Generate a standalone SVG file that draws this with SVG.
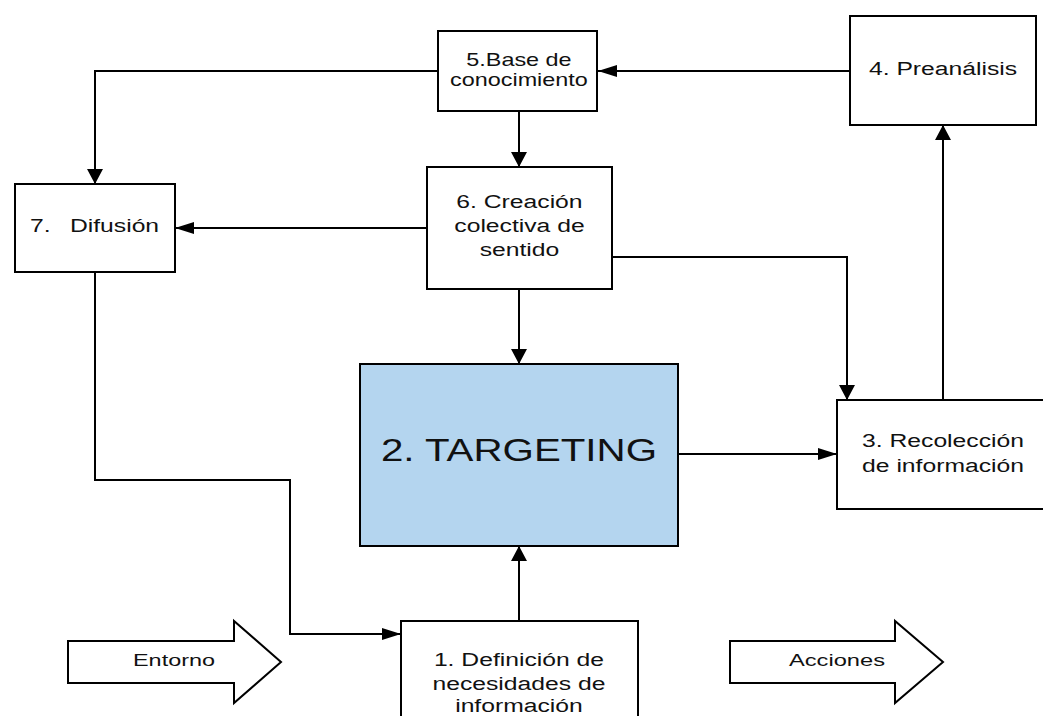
<svg xmlns="http://www.w3.org/2000/svg" width="1043" height="716" viewBox="0 0 1043 716">
<style>
.box{fill:#ffffff;stroke:#000;stroke-width:2}
.blue{fill:#b4d5ef;stroke:#000;stroke-width:2}
.conn{fill:none;stroke:#000;stroke-width:2}
.big{fill:#fff;stroke:#000;stroke-width:2;stroke-linejoin:miter}
text{font-family:"Liberation Sans",Arial,sans-serif;fill:#111;text-anchor:middle}
.t19{font-size:19px}
.t18{font-size:18px}
.t16{font-size:16px}
.t31{font-size:31px}
</style>
<defs>
<marker id="ah" markerUnits="userSpaceOnUse" markerWidth="20" markerHeight="12" refX="19" refY="6" orient="auto">
<path d="M0,0 L19,6 L0,12 z" fill="#000"/>
</marker>
<marker id="av" markerUnits="userSpaceOnUse" markerWidth="16" markerHeight="16" refX="15" refY="8" orient="auto">
<path d="M0,0 L15,8 L0,16 z" fill="#000"/>
</marker>
</defs>
<rect width="1043" height="716" fill="#fff"/>
<g id="connectors">
<line class="conn" x1="850" y1="71" x2="598" y2="71" marker-end="url(#ah)"/>
<polyline class="conn" points="438,71 95,71 95,184" marker-end="url(#av)"/>
<line class="conn" x1="519" y1="111" x2="519" y2="167" marker-end="url(#av)"/>
<line class="conn" x1="427" y1="228" x2="175" y2="228" marker-end="url(#ah)"/>
<polyline class="conn" points="612,257 847,257 847,400" marker-end="url(#av)"/>
<line class="conn" x1="519" y1="289" x2="519" y2="364" marker-end="url(#av)"/>
<line class="conn" x1="678" y1="454" x2="837" y2="454" marker-end="url(#ah)"/>
<line class="conn" x1="943" y1="400" x2="943" y2="125" marker-end="url(#av)"/>
<polyline class="conn" points="95,272 95,480 290,480 290,634 401,634" marker-end="url(#ah)"/>
<line class="conn" x1="519" y1="621" x2="519" y2="546" marker-end="url(#av)"/>
</g>
<g id="node5">
<rect class="box" x="438" y="31" width="159" height="80"/>
<g transform="scale(1.3 1)">
<text class="t18" x="399.2" y="66">5.Base de</text>
<text class="t18" x="399.2" y="86">conocimiento</text>
</g>
</g>
<g id="node4">
<rect class="box" x="850" y="16" width="186" height="109"/>
<g transform="scale(1.3 1)">
<text class="t19" x="725.4" y="75">4. Preanálisis</text>
</g>
</g>
<g id="node7">
<rect class="box" x="15" y="184" width="160" height="88"/>
<g transform="scale(1.3 1)">
<text class="t19" style="text-anchor:start" y="232"><tspan x="23.1">7.</tspan><tspan x="53.8">Difusión</tspan></text>
</g>
</g>
<g id="node6">
<rect class="box" x="427" y="167" width="185" height="122"/>
<g transform="scale(1.3 1)">
<text class="t19" x="399.6" y="208">6. Creación</text>
<text class="t19" x="399.6" y="232">colectiva de</text>
<text class="t19" x="399.6" y="256">sentido</text>
</g>
</g>
<g id="node2">
<rect class="blue" x="360" y="364" width="318" height="182"/>
<g transform="scale(1.3 1)">
<text class="t31" x="399.2" y="461">2. TARGETING</text>
</g>
</g>
<g id="node3">
<rect class="box" x="837" y="400" width="210" height="109"/>
<g transform="scale(1.3 1)">
<text class="t19" x="725.4" y="447">3. Recolección</text>
<text class="t19" x="725.4" y="472">de información</text>
</g>
</g>
<g id="node1">
<rect class="box" x="401" y="621" width="237" height="110"/>
<g transform="scale(1.3 1)">
<text class="t19" x="399.2" y="666">1. Definición de</text>
<text class="t19" x="399.2" y="690">necesidades de</text>
<text class="t19" x="399.2" y="712">información</text>
</g>
</g>
<g id="entorno">
<polygon class="big" points="68,641 234,641 234,621 281,662 234,703 234,683 68,683"/>
<text class="t16" x="174" y="666" textLength="82" lengthAdjust="spacingAndGlyphs">Entorno</text>
</g>
<g id="acciones">
<polygon class="big" points="730,641 895,641 895,621 943,662 895,703 895,683 730,683"/>
<text class="t16" x="837" y="666" textLength="96" lengthAdjust="spacingAndGlyphs">Acciones</text>
</g>
</svg>
